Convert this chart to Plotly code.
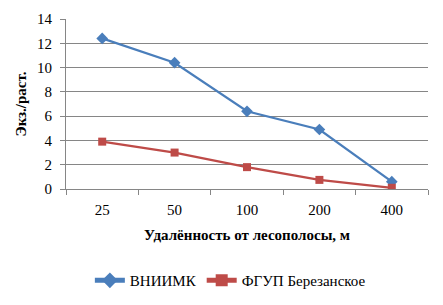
import plotly.graph_objects as go

categories = ["25", "50", "100", "200", "400"]
vniimk = [12.4, 10.4, 6.4, 4.9, 0.6]
fgup = [3.9, 3.0, 1.8, 0.75, 0.1]

fig = go.Figure()
fig.add_trace(go.Scatter(x=categories, y=vniimk, name="ВНИИМК", mode="lines+markers",
                         line=dict(color="#4A7EBB", width=2.25),
                         marker=dict(symbol="diamond", size=9, color="#4A7EBB")))
fig.add_trace(go.Scatter(x=categories, y=fgup, name="ФГУП Березанское", mode="lines+markers",
                         line=dict(color="#BE4B48", width=2.25),
                         marker=dict(symbol="square", size=8, color="#BE4B48")))

font = "Liberation Serif"
fig.update_layout(
    width=443, height=305,
    margin=dict(l=66, r=15, t=19, b=116, autoexpand=False),
    paper_bgcolor="white", plot_bgcolor="white",
    font=dict(family=font, size=15, color="#000"),
    showlegend=True,
    legend=dict(orientation="h", x=0.52, xref="container", xanchor="center",
                y=0.08, yref="container", yanchor="middle",
                font=dict(family=font, size=15), tracegroupgap=0, itemsizing="constant"),
    xaxis=dict(type="category", range=[-0.5, 4.5], showline=True, linecolor="#868686", linewidth=1,
               ticks="outside", tickson="boundaries", ticklen=5, tickcolor="#868686",
               ticklabelstandoff=7,
               showgrid=False, tickfont=dict(family=font, size=15),
               title=dict(text="<b>Удалённость от лесополосы, м</b>", standoff=12,
                          font=dict(family=font, size=15))),
    yaxis=dict(range=[0, 14], dtick=2, showline=True, linecolor="#868686", linewidth=1,
               ticks="outside", ticklen=5, tickcolor="#868686",
               ticklabelstandoff=5,
               showgrid=True, gridcolor="#868686", gridwidth=1, zeroline=False,
               tickfont=dict(family=font, size=15),
               title=dict(text="<b>Экз./раст.</b>", standoff=6,
                          font=dict(family=font, size=15))),
)
fig.write_html("out.html", config={"displayModeBar": False},
               post_script="document.body.style.margin='0';document.body.style.overflow='hidden';")
